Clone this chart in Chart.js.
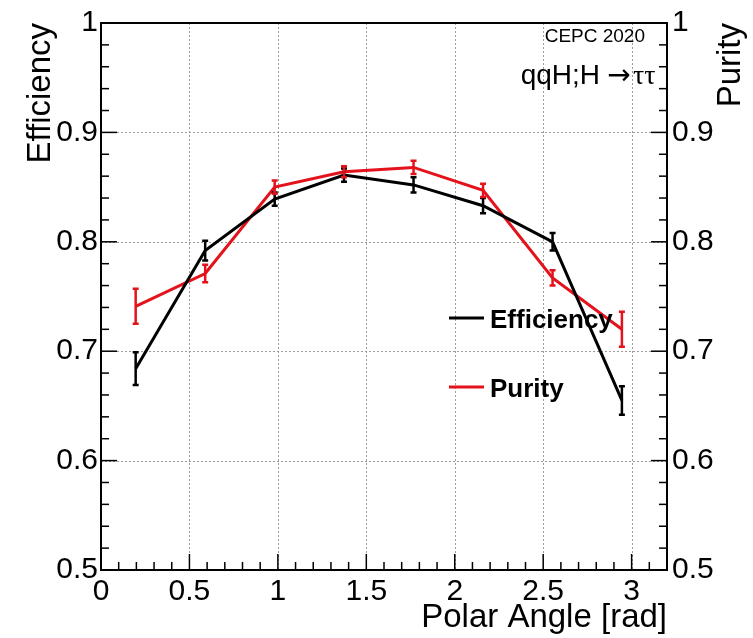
<!DOCTYPE html>
<html>
<head>
<meta charset="utf-8">
<script src="https://cdn.jsdelivr.net/npm/chart.js@4/dist/chart.umd.min.js"></script>
<style>
  body { margin: 0; background: #fff; }
</style>
</head>
<body>
<canvas id="c" width="753" height="638"></canvas>
<script>
// bin centres in polar angle (rad)
const angles = [0.196, 0.589, 0.982, 1.374, 1.767, 2.160, 2.553, 2.945];
const efficiency = [0.684, 0.792, 0.839, 0.861, 0.852, 0.833, 0.800, 0.655];
const effErr = [0.015, 0.009, 0.006, 0.006, 0.007, 0.007, 0.008, 0.013];
const purity = [0.741, 0.771, 0.850, 0.864, 0.868, 0.847, 0.767, 0.720];
const purErr = [0.016, 0.008, 0.006, 0.005, 0.006, 0.006, 0.007, 0.016];
const seriesNames = ['Efficiency', 'Purity'];
const notes = ['CEPC 2020', 'qqH;H', '\u2192', '\u03c4\u03c4'];

const RED = '#e3121b';
const FONT = '"Liberation Sans", Arial, Helvetica, sans-serif';

const toPts = (ys) => ys.map((y, i) => ({ x: angles[i], y: y }));
const fmt = (v) => String(Number(v.toFixed(2)));

// draws error bars, dotted grid, inward ticks, frame and texts
const rootStyle = {
  id: 'rootStyle',
  beforeDatasetsDraw(chart) {
    const { ctx, chartArea: a, scales } = chart;
    ctx.save();
    ctx.strokeStyle = '#9a9a9a';
    ctx.lineWidth = 1;
    ctx.setLineDash([2, 2]);
    scales.x.ticks.forEach(t => {
      const px = Math.round(scales.x.getPixelForValue(t.value)) + 0.5;
      if (px <= a.left + 1 || px >= a.right - 1) return;
      ctx.beginPath(); ctx.moveTo(px, a.top); ctx.lineTo(px, a.bottom); ctx.stroke();
    });
    scales.y.ticks.forEach(t => {
      const py = Math.round(scales.y.getPixelForValue(t.value)) + 0.5;
      if (py <= a.top + 1 || py >= a.bottom - 1) return;
      ctx.beginPath(); ctx.moveTo(a.left, py); ctx.lineTo(a.right, py); ctx.stroke();
    });
    ctx.restore();
  },
  afterDatasetsDraw(chart) {
    const { ctx, chartArea: a, scales } = chart;
    ctx.save();
    // error bars
    const bars = [[efficiency, effErr, '#000', scales.y], [purity, purErr, RED, scales.y1]];
    bars.forEach(([vals, errs, col, ys]) => {
      ctx.strokeStyle = col;
      ctx.lineWidth = 2.5;
      vals.forEach((v, i) => {
        const px = scales.x.getPixelForValue(angles[i]);
        const top = ys.getPixelForValue(v + errs[i]);
        const bot = ys.getPixelForValue(v - errs[i]);
        ctx.beginPath();
        ctx.moveTo(px, top); ctx.lineTo(px, bot);
        ctx.moveTo(px - 3, top); ctx.lineTo(px + 3, top);
        ctx.moveTo(px - 3, bot); ctx.lineTo(px + 3, bot);
        ctx.stroke();
      });
    });

    // frame
    ctx.strokeStyle = '#000';
    ctx.lineWidth = 2;
    ctx.strokeRect(a.left, a.top, a.right - a.left, a.bottom - a.top);

    // inward ticks
    ctx.lineWidth = 1.5;
    for (let k = 0; k <= 32; k++) {
      const v = k * 0.1;
      if (v > scales.x.max + 1e-9) break;
      const px = scales.x.getPixelForValue(v);
      const len = k % 5 === 0 ? 16 : 8;
      ctx.beginPath(); ctx.moveTo(px, a.bottom); ctx.lineTo(px, a.bottom - len); ctx.stroke();
    }
    for (let k = 0; k <= 25; k++) {
      const v = 0.5 + k * 0.02;
      const py = scales.y.getPixelForValue(v);
      const len = k % 5 === 0 ? 16 : 8;
      ctx.beginPath(); ctx.moveTo(a.left, py); ctx.lineTo(a.left + len, py); ctx.stroke();
      ctx.beginPath(); ctx.moveTo(a.right, py); ctx.lineTo(a.right - len, py); ctx.stroke();
    }

    // axis titles
    ctx.fillStyle = '#000';
    ctx.font = '33px ' + FONT;
    ctx.textBaseline = 'middle';
    ctx.save();
    ctx.translate(41, a.top);
    ctx.rotate(-Math.PI / 2);
    ctx.textAlign = 'right';
    ctx.fillText('Efficiency', 0, 0);
    ctx.restore();
    ctx.save();
    ctx.translate(731, a.top);
    ctx.rotate(-Math.PI / 2);
    ctx.textAlign = 'right';
    ctx.fillText('Purity', 0, 0);
    ctx.restore();
    ctx.textAlign = 'right';
    ctx.textBaseline = 'alphabetic';
    ctx.fillText('Polar Angle [rad]', a.right, 627);

    // notes
    ctx.font = '19px ' + FONT;
    ctx.fillText(notes[0], 645, 42);
    ctx.font = '28px ' + FONT;
    ctx.fillText(notes[1], 600, 84);
    ctx.textAlign = 'center';
    ctx.font = '28px "DejaVu Sans", sans-serif';
    ctx.fillText(notes[2], 619, 84);
    ctx.textAlign = 'left';
    ctx.font = '28px "Liberation Serif", serif';
    ctx.fillText(notes[3], 633, 84);

    // legend
    const cols = ['#000', RED];
    const rows = [318, 387];
    ctx.textAlign = 'left';
    ctx.textBaseline = 'middle';
    ctx.font = 'bold 26px ' + FONT;
    seriesNames.forEach((n, i) => {
      ctx.strokeStyle = cols[i];
      ctx.lineWidth = 3;
      ctx.beginPath(); ctx.moveTo(449, rows[i]); ctx.lineTo(484, rows[i]); ctx.stroke();
      ctx.fillStyle = '#000';
      ctx.fillText(n, 490, rows[i] + 3);
    });
    ctx.restore();
  }
};

const tickFont = { family: FONT, size: 30 };

new Chart(document.getElementById('c'), {
  type: 'line',
  data: {
    datasets: [
      {
        label: seriesNames[0],
        data: toPts(efficiency),
        borderColor: '#000',
        borderWidth: 3,
        pointRadius: 0,
        tension: 0,
        yAxisID: 'y'
      },
      {
        label: seriesNames[1],
        data: toPts(purity),
        borderColor: RED,
        borderWidth: 3,
        pointRadius: 0,
        tension: 0,
        yAxisID: 'y1'
      }
    ]
  },
  options: {
    responsive: false,
    devicePixelRatio: 1,
    animation: false,
    layout: { padding: { top: 20 } },
    plugins: {
      legend: { display: false },
      tooltip: { enabled: false }
    },
    scales: {
      x: {
        type: 'linear',
        min: 0,
        max: 3.2,
        grid: { display: false, drawTicks: false },
        border: { display: false },
        ticks: {
          stepSize: 0.5,
          includeBounds: false,
          color: '#000',
          font: tickFont,
          padding: 4,
          maxRotation: 0,
          callback: (v) => fmt(v)
        },
        afterFit: (s) => { s.height = 68; }
      },
      y: {
        position: 'left',
        min: 0.5,
        max: 1,
        grid: { display: false, drawTicks: false },
        border: { display: false },
        ticks: { stepSize: 0.1, color: '#000', font: tickFont, padding: 3, callback: (v) => fmt(v) },
        afterFit: (s) => { s.width = 101; }
      },
      y1: {
        position: 'right',
        min: 0.5,
        max: 1,
        grid: { display: false, drawTicks: false },
        border: { display: false },
        ticks: { stepSize: 0.1, color: '#000', font: tickFont, padding: 5, callback: (v) => fmt(v) },
        afterFit: (s) => { s.width = 86; }
      }
    }
  },
  plugins: [rootStyle]
});
</script>
</body>
</html>
